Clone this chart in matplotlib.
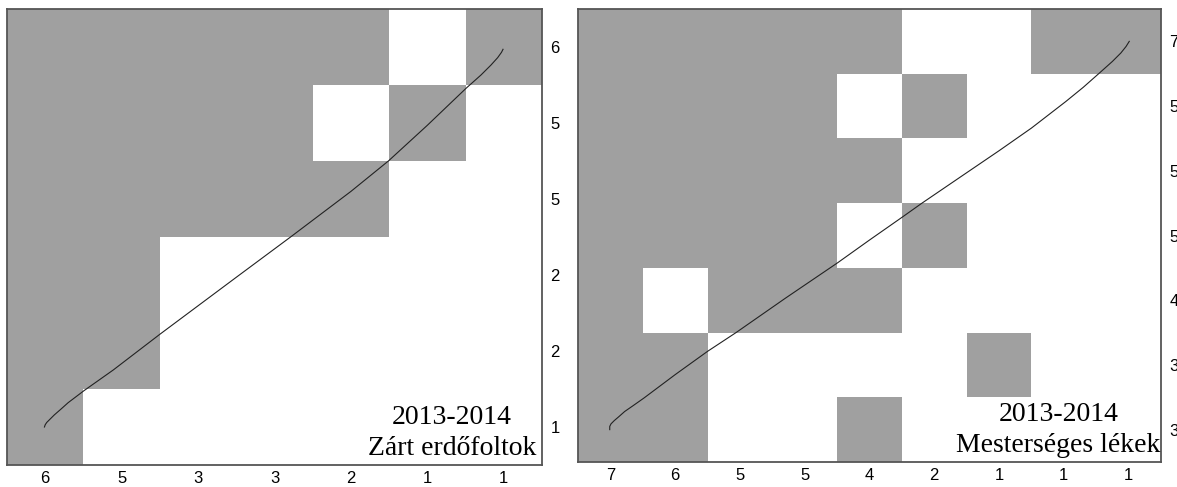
import numpy as np
import matplotlib
matplotlib.use("Agg")
import matplotlib.pyplot as plt

# ---------------- data ----------------
# Left panel: Zárt erdőfoltok (rows top -> bottom, columns left -> right)
left_matrix = [
    [1, 1, 1, 1, 1, 0, 1],
    [1, 1, 1, 1, 0, 1, 0],
    [1, 1, 1, 1, 1, 0, 0],
    [1, 1, 0, 0, 0, 0, 0],
    [1, 1, 0, 0, 0, 0, 0],
    [1, 0, 0, 0, 0, 0, 0],
]
left_col_labels = ["6", "5", "3", "3", "2", "1", "1"]
left_row_labels = ["6", "5", "5", "2", "2", "1"]
left_title = ["2013-2014", "Zárt erdőfoltok"]
# isocline points (cell units, y from bottom)
left_curve_x = [0.49, 0.50, 0.52, 0.56, 0.62, 0.70, 0.80, 1.01, 1.39, 2.00, 3.00, 3.71,
                4.50, 4.99, 5.50, 6.01, 6.20, 6.33, 6.42, 6.47, 6.49]
left_curve_y = [0.50, 0.53, 0.56, 0.60, 0.66, 0.73, 0.82, 0.98, 1.25, 1.72, 2.47, 3.00,
                3.60, 4.00, 4.47, 4.96, 5.13, 5.26, 5.36, 5.43, 5.47]

# Right panel: Mesterséges lékek
right_matrix = [
    [1, 1, 1, 1, 1, 0, 0, 1, 1],
    [1, 1, 1, 1, 0, 1, 0, 0, 0],
    [1, 1, 1, 1, 1, 0, 0, 0, 0],
    [1, 1, 1, 1, 0, 1, 0, 0, 0],
    [1, 0, 1, 1, 1, 0, 0, 0, 0],
    [1, 1, 0, 0, 0, 0, 1, 0, 0],
    [1, 1, 0, 0, 1, 0, 0, 0, 0],
]
right_col_labels = ["7", "6", "5", "5", "4", "2", "1", "1", "1"]
right_row_labels = ["7", "5", "5", "5", "4", "3", "3"]
right_title = ["2013-2014", "Mesterséges lékek"]
right_curve_x = [0.49, 0.49, 0.51, 0.56, 0.63, 0.72, 0.85, 1.02, 1.50, 2.00, 2.44, 3.20,
                 4.01, 4.50, 5.00, 5.31, 6.00, 6.50, 7.00, 7.53, 7.80, 8.06, 8.25, 8.38, 8.46, 8.51]
right_curve_y = [0.50, 0.55, 0.59, 0.64, 0.70, 0.78, 0.87, 0.99, 1.35, 1.71, 2.00, 2.53,
                 3.08, 3.43, 3.78, 4.00, 4.47, 4.81, 5.16, 5.57, 5.79, 6.02, 6.19, 6.32, 6.42, 6.50]

GRAY = "#a0a0a0"
SPINE = "#555555"

W, H = 1177, 487
fig = plt.figure(figsize=(W / 100, H / 100), dpi=100)


def panel(rect_px, matrix, col_labels, row_labels, title, cx, cy, text_x):
    x0, y_top, x1, y_bot = rect_px
    ax = fig.add_axes([x0 / W, 1 - y_bot / H, (x1 - x0) / W, (y_bot - y_top) / H])
    m = np.array(matrix, dtype=float)
    nrows, ncols = m.shape
    mflip = m[::-1, :]
    cmap = matplotlib.colors.ListedColormap(["white", GRAY])
    ax.pcolormesh(np.arange(ncols + 1), np.arange(nrows + 1), mflip,
                  cmap=cmap, vmin=0, vmax=1, shading="flat")
    ax.plot(cx, cy, color="#222222", lw=0.8)
    ax.set_xlim(0, ncols)
    ax.set_ylim(0, nrows)
    ax.set_xticks(np.arange(ncols) + 0.5)
    ax.set_xticklabels(col_labels)
    ax.set_yticks(np.arange(nrows) + 0.5)
    ax.set_yticklabels(row_labels[::-1])
    ax.yaxis.tick_right()
    ax.tick_params(length=0, labelsize=12, pad=6)
    ax.tick_params(axis="x", pad=4)
    for lab in ax.get_xticklabels() + ax.get_yticklabels():
        lab.set_fontfamily("Liberation Sans")
    for s in ax.spines.values():
        s.set_color(SPINE)
        s.set_linewidth(1.3)
    ax.text(text_x, 0.104, title[0], transform=ax.transAxes, ha="center", va="center",
            fontsize=20, family="Liberation Serif")
    ax.text(text_x, 0.037, title[1], transform=ax.transAxes, ha="center", va="center",
            fontsize=20, family="Liberation Serif")
    return ax


panel((7, 9, 542, 465), left_matrix, left_col_labels, left_row_labels, left_title,
      left_curve_x, left_curve_y, 0.832)
panel((578, 9, 1161, 462), right_matrix, right_col_labels, right_row_labels, right_title,
      right_curve_x, right_curve_y, 0.824)

fig.savefig("out.png", dpi=100)
